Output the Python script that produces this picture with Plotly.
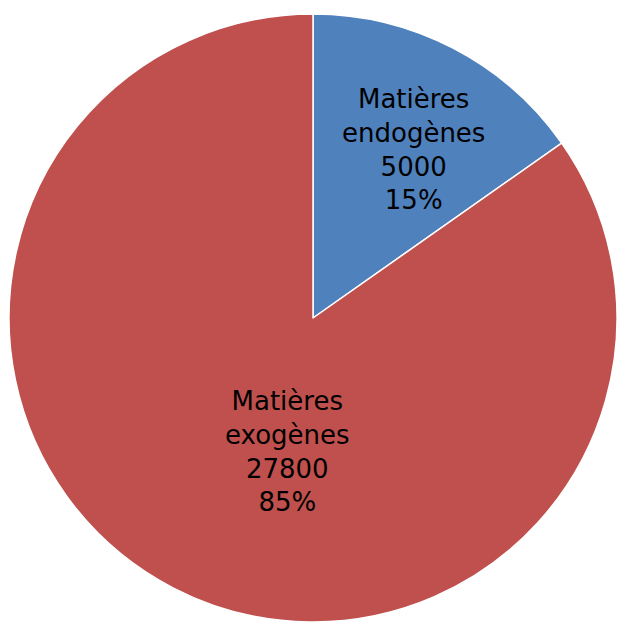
import plotly.graph_objects as go

# Raw material sources
categories = ["Matières<br>endogènes", "Matières<br>exogènes"]
values = [5000, 27800]
colors = ["#4F81BD", "#C0504D"]

W, H = 617, 628
total = sum(values)

fig = go.Figure(
    go.Pie(
        labels=categories,
        values=values,
        sort=False,
        direction="clockwise",
        rotation=0,
        marker=dict(colors=colors, line=dict(color="white", width=1.5)),
        textinfo="none",
        hoverinfo="label+value+percent",
        showlegend=False,
        domain=dict(x=[9 / W, 1.0], y=[1 - 622 / H, 1 - 14 / H]),
    )
)

# Slice labels: name, value and rounded share
label_pos = [(413, 149), (287, 452)]
for cat, val, (px, py) in zip(categories, values, label_pos):
    pct = round(100 * val / total)
    fig.add_annotation(
        x=px / W,
        y=1 - py / H,
        xref="paper",
        yref="paper",
        xanchor="center",
        yanchor="middle",
        text=f"{cat}<br>{val}<br>{pct}%",
        showarrow=False,
        align="center",
        font=dict(family="DejaVu Sans", size=26, color="black"),
    )

fig.update_layout(
    width=W,
    height=H,
    margin=dict(l=0, r=0, t=0, b=0),
    paper_bgcolor="white",
    plot_bgcolor="white",
)

fig.write_html("out.html")
